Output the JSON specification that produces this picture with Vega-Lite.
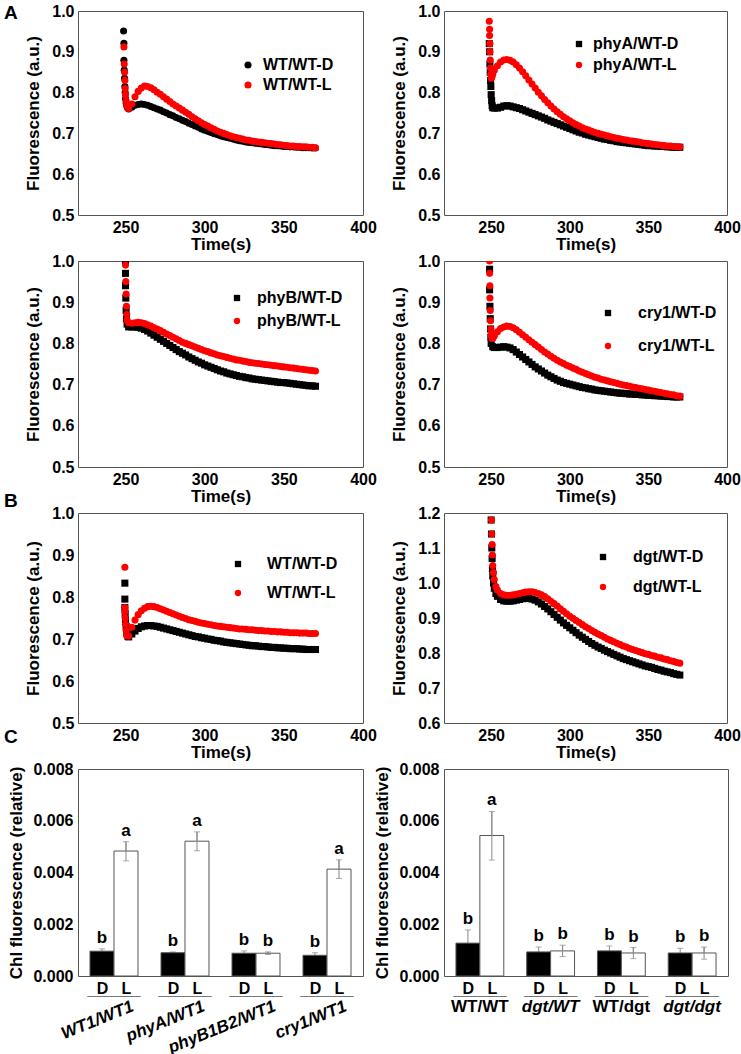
{
"$schema": "https://vega.github.io/schema/vega-lite/v6.json",
"padding": {"left": 3, "top": 2, "right": 5, "bottom": 5},
"datasets": {
"p1": [
{"t":248.8,"f":0.951,"s":"D"},{"t":249,"f":0.921,"s":"D"},{"t":249,"f":0.879,"s":"D"},{"t":249.2,"f":0.855,"s":"D"},{"t":249.4,"f":0.835,"s":"D"},{"t":249.6,"f":0.815,"s":"D"},{"t":249.8,"f":0.8,"s":"D"},{"t":250,"f":0.785,"s":"D"},{"t":250.4,"f":0.775,"s":"D"},{"t":250.8,"f":0.768,"s":"D"},{"t":251.4,"f":0.762,"s":"D"},
{"t":252,"f":0.76,"s":"D"},{"t":254,"f":0.764,"s":"D"},{"t":256,"f":0.769,"s":"D"},{"t":258,"f":0.771,"s":"D"},{"t":260,"f":0.772,"s":"D"},{"t":262,"f":0.771,"s":"D"},{"t":264,"f":0.769,"s":"D"},{"t":266,"f":0.766,"s":"D"},{"t":268,"f":0.763,"s":"D"},{"t":270,"f":0.76,"s":"D"},{"t":272,"f":0.757,"s":"D"},{"t":274,"f":0.753,"s":"D"},{"t":276,"f":0.75,"s":"D"},{"t":278,"f":0.746,"s":"D"},{"t":280,"f":0.743,"s":"D"},{"t":282,"f":0.739,"s":"D"},{"t":284,"f":0.736,"s":"D"},{"t":286,"f":0.732,"s":"D"},{"t":288,"f":0.729,"s":"D"},{"t":290,"f":0.725,"s":"D"},{"t":292,"f":0.722,"s":"D"},{"t":294,"f":0.718,"s":"D"},{"t":296,"f":0.715,"s":"D"},{"t":298,"f":0.711,"s":"D"},{"t":300,"f":0.708,"s":"D"},{"t":302,"f":0.705,"s":"D"},{"t":304,"f":0.702,"s":"D"},{"t":306,"f":0.699,"s":"D"},{"t":308,"f":0.697,"s":"D"},{"t":310,"f":0.694,"s":"D"},{"t":312,"f":0.692,"s":"D"},{"t":314,"f":0.69,"s":"D"},{"t":316,"f":0.688,"s":"D"},{"t":318,"f":0.686,"s":"D"},{"t":320,"f":0.684,"s":"D"},{"t":322,"f":0.682,"s":"D"},{"t":324,"f":0.681,"s":"D"},{"t":326,"f":0.679,"s":"D"},{"t":328,"f":0.678,"s":"D"},{"t":330,"f":0.677,"s":"D"},{"t":332,"f":0.676,"s":"D"},{"t":334,"f":0.675,"s":"D"},{"t":336,"f":0.674,"s":"D"},{"t":338,"f":0.673,"s":"D"},{"t":340,"f":0.672,"s":"D"},{"t":342,"f":0.671,"s":"D"},{"t":344,"f":0.67,"s":"D"},{"t":346,"f":0.67,"s":"D"},{"t":348,"f":0.669,"s":"D"},{"t":350,"f":0.668,"s":"D"},{"t":352,"f":0.668,"s":"D"},{"t":354,"f":0.667,"s":"D"},{"t":356,"f":0.667,"s":"D"},{"t":358,"f":0.666,"s":"D"},{"t":360,"f":0.666,"s":"D"},{"t":362,"f":0.665,"s":"D"},{"t":364,"f":0.665,"s":"D"},{"t":366,"f":0.665,"s":"D"},{"t":368,"f":0.664,"s":"D"},{"t":370,"f":0.664,"s":"D"},
{"t":249,"f":0.912,"s":"L"},{"t":249.2,"f":0.87,"s":"L"},{"t":249.4,"f":0.85,"s":"L"},{"t":249.6,"f":0.83,"s":"L"},{"t":249.8,"f":0.81,"s":"L"},{"t":250,"f":0.795,"s":"L"},{"t":250.4,"f":0.78,"s":"L"},{"t":250.8,"f":0.77,"s":"L"},{"t":251.4,"f":0.763,"s":"L"},
{"t":252,"f":0.761,"s":"L"},{"t":254,"f":0.772,"s":"L"},{"t":256,"f":0.79,"s":"L"},{"t":258,"f":0.803,"s":"L"},{"t":260,"f":0.811,"s":"L"},{"t":262,"f":0.816,"s":"L"},{"t":264,"f":0.815,"s":"L"},{"t":266,"f":0.812,"s":"L"},{"t":268,"f":0.807,"s":"L"},{"t":270,"f":0.801,"s":"L"},{"t":272,"f":0.796,"s":"L"},{"t":274,"f":0.79,"s":"L"},{"t":276,"f":0.784,"s":"L"},{"t":278,"f":0.778,"s":"L"},{"t":280,"f":0.772,"s":"L"},{"t":282,"f":0.767,"s":"L"},{"t":284,"f":0.762,"s":"L"},{"t":286,"f":0.757,"s":"L"},{"t":288,"f":0.752,"s":"L"},{"t":290,"f":0.747,"s":"L"},{"t":292,"f":0.741,"s":"L"},{"t":294,"f":0.736,"s":"L"},{"t":296,"f":0.731,"s":"L"},{"t":298,"f":0.726,"s":"L"},{"t":300,"f":0.722,"s":"L"},{"t":302,"f":0.718,"s":"L"},{"t":304,"f":0.714,"s":"L"},{"t":306,"f":0.71,"s":"L"},{"t":308,"f":0.706,"s":"L"},{"t":310,"f":0.703,"s":"L"},{"t":312,"f":0.7,"s":"L"},{"t":314,"f":0.697,"s":"L"},{"t":316,"f":0.694,"s":"L"},{"t":318,"f":0.692,"s":"L"},{"t":320,"f":0.69,"s":"L"},{"t":322,"f":0.688,"s":"L"},{"t":324,"f":0.686,"s":"L"},{"t":326,"f":0.684,"s":"L"},{"t":328,"f":0.683,"s":"L"},{"t":330,"f":0.681,"s":"L"},{"t":332,"f":0.68,"s":"L"},{"t":334,"f":0.679,"s":"L"},{"t":336,"f":0.678,"s":"L"},{"t":338,"f":0.677,"s":"L"},{"t":340,"f":0.676,"s":"L"},{"t":342,"f":0.675,"s":"L"},{"t":344,"f":0.674,"s":"L"},{"t":346,"f":0.673,"s":"L"},{"t":348,"f":0.672,"s":"L"},{"t":350,"f":0.671,"s":"L"},{"t":352,"f":0.67,"s":"L"},{"t":354,"f":0.669,"s":"L"},{"t":356,"f":0.669,"s":"L"},{"t":358,"f":0.668,"s":"L"},{"t":360,"f":0.668,"s":"L"},{"t":362,"f":0.667,"s":"L"},{"t":364,"f":0.667,"s":"L"},{"t":366,"f":0.666,"s":"L"},{"t":368,"f":0.666,"s":"L"},{"t":370,"f":0.665,"s":"L"}
],
"p2": [
{"t":248.8,"f":0.92,"s":"D"},{"t":249,"f":0.9,"s":"D"},{"t":249.2,"f":0.87,"s":"D"},{"t":249.4,"f":0.85,"s":"D"},{"t":249.6,"f":0.83,"s":"D"},{"t":249.8,"f":0.815,"s":"D"},{"t":250,"f":0.795,"s":"D"},{"t":250.3,"f":0.78,"s":"D"},{"t":250.6,"f":0.768,"s":"D"},{"t":251,"f":0.763,"s":"D"},
{"t":252,"f":0.762,"s":"D"},{"t":254,"f":0.762,"s":"D"},{"t":256,"f":0.764,"s":"D"},{"t":258,"f":0.767,"s":"D"},{"t":260,"f":0.768,"s":"D"},{"t":262,"f":0.767,"s":"D"},{"t":264,"f":0.765,"s":"D"},{"t":266,"f":0.763,"s":"D"},{"t":268,"f":0.761,"s":"D"},{"t":270,"f":0.758,"s":"D"},{"t":272,"f":0.755,"s":"D"},{"t":274,"f":0.752,"s":"D"},{"t":276,"f":0.749,"s":"D"},{"t":278,"f":0.746,"s":"D"},{"t":280,"f":0.743,"s":"D"},{"t":282,"f":0.74,"s":"D"},{"t":284,"f":0.737,"s":"D"},{"t":286,"f":0.733,"s":"D"},{"t":288,"f":0.73,"s":"D"},{"t":290,"f":0.727,"s":"D"},{"t":292,"f":0.724,"s":"D"},{"t":294,"f":0.721,"s":"D"},{"t":296,"f":0.718,"s":"D"},{"t":298,"f":0.715,"s":"D"},{"t":300,"f":0.712,"s":"D"},{"t":302,"f":0.709,"s":"D"},{"t":304,"f":0.706,"s":"D"},{"t":306,"f":0.703,"s":"D"},{"t":308,"f":0.701,"s":"D"},{"t":310,"f":0.698,"s":"D"},{"t":312,"f":0.696,"s":"D"},{"t":314,"f":0.694,"s":"D"},{"t":316,"f":0.692,"s":"D"},{"t":318,"f":0.69,"s":"D"},{"t":320,"f":0.688,"s":"D"},{"t":322,"f":0.686,"s":"D"},{"t":324,"f":0.685,"s":"D"},{"t":326,"f":0.683,"s":"D"},{"t":328,"f":0.682,"s":"D"},{"t":330,"f":0.68,"s":"D"},{"t":332,"f":0.679,"s":"D"},{"t":334,"f":0.678,"s":"D"},{"t":336,"f":0.677,"s":"D"},{"t":338,"f":0.676,"s":"D"},{"t":340,"f":0.675,"s":"D"},{"t":342,"f":0.674,"s":"D"},{"t":344,"f":0.673,"s":"D"},{"t":346,"f":0.672,"s":"D"},{"t":348,"f":0.671,"s":"D"},{"t":350,"f":0.67,"s":"D"},{"t":352,"f":0.67,"s":"D"},{"t":354,"f":0.669,"s":"D"},{"t":356,"f":0.669,"s":"D"},{"t":358,"f":0.668,"s":"D"},{"t":360,"f":0.668,"s":"D"},{"t":362,"f":0.667,"s":"D"},{"t":364,"f":0.667,"s":"D"},{"t":366,"f":0.666,"s":"D"},{"t":368,"f":0.666,"s":"D"},{"t":370,"f":0.666,"s":"D"},
{"t":248.8,"f":0.975,"s":"L"},{"t":249,"f":0.955,"s":"L"},{"t":249,"f":0.94,"s":"L"},{"t":249.2,"f":0.92,"s":"L"},{"t":249.2,"f":0.9,"s":"L"},{"t":249.4,"f":0.88,"s":"L"},{"t":249.6,"f":0.86,"s":"L"},{"t":249.8,"f":0.845,"s":"L"},{"t":250,"f":0.835,"s":"L"},{"t":250.5,"f":0.838,"s":"L"},{"t":251,"f":0.845,"s":"L"},
{"t":252,"f":0.855,"s":"L"},{"t":254,"f":0.866,"s":"L"},{"t":256,"f":0.875,"s":"L"},{"t":258,"f":0.88,"s":"L"},{"t":260,"f":0.881,"s":"L"},{"t":262,"f":0.879,"s":"L"},{"t":264,"f":0.875,"s":"L"},{"t":266,"f":0.868,"s":"L"},{"t":268,"f":0.86,"s":"L"},{"t":270,"f":0.851,"s":"L"},{"t":272,"f":0.841,"s":"L"},{"t":274,"f":0.831,"s":"L"},{"t":276,"f":0.821,"s":"L"},{"t":278,"f":0.811,"s":"L"},{"t":280,"f":0.801,"s":"L"},{"t":282,"f":0.792,"s":"L"},{"t":284,"f":0.783,"s":"L"},{"t":286,"f":0.775,"s":"L"},{"t":288,"f":0.767,"s":"L"},{"t":290,"f":0.76,"s":"L"},{"t":292,"f":0.753,"s":"L"},{"t":294,"f":0.747,"s":"L"},{"t":296,"f":0.741,"s":"L"},{"t":298,"f":0.736,"s":"L"},{"t":300,"f":0.731,"s":"L"},{"t":302,"f":0.726,"s":"L"},{"t":304,"f":0.722,"s":"L"},{"t":306,"f":0.718,"s":"L"},{"t":308,"f":0.714,"s":"L"},{"t":310,"f":0.711,"s":"L"},{"t":312,"f":0.708,"s":"L"},{"t":314,"f":0.705,"s":"L"},{"t":316,"f":0.702,"s":"L"},{"t":318,"f":0.7,"s":"L"},{"t":320,"f":0.698,"s":"L"},{"t":322,"f":0.696,"s":"L"},{"t":324,"f":0.694,"s":"L"},{"t":326,"f":0.692,"s":"L"},{"t":328,"f":0.69,"s":"L"},{"t":330,"f":0.688,"s":"L"},{"t":332,"f":0.687,"s":"L"},{"t":334,"f":0.685,"s":"L"},{"t":336,"f":0.684,"s":"L"},{"t":338,"f":0.682,"s":"L"},{"t":340,"f":0.681,"s":"L"},{"t":342,"f":0.68,"s":"L"},{"t":344,"f":0.679,"s":"L"},{"t":346,"f":0.677,"s":"L"},{"t":348,"f":0.676,"s":"L"},{"t":350,"f":0.675,"s":"L"},{"t":352,"f":0.674,"s":"L"},{"t":354,"f":0.673,"s":"L"},{"t":356,"f":0.672,"s":"L"},{"t":358,"f":0.671,"s":"L"},{"t":360,"f":0.67,"s":"L"},{"t":362,"f":0.669,"s":"L"},{"t":364,"f":0.669,"s":"L"},{"t":366,"f":0.668,"s":"L"},{"t":368,"f":0.667,"s":"L"},{"t":370,"f":0.667,"s":"L"}
],
"p3": [
{"t":250,"f":1.0,"s":"D"},{"t":250,"f":0.97,"s":"D"},{"t":250,"f":0.94,"s":"D"},{"t":250.2,"f":0.91,"s":"D"},{"t":250.4,"f":0.88,"s":"D"},{"t":250.6,"f":0.86,"s":"D"},{"t":251,"f":0.847,"s":"D"},
{"t":252,"f":0.84,"s":"D"},{"t":254,"f":0.84,"s":"D"},{"t":256,"f":0.84,"s":"D"},{"t":258,"f":0.839,"s":"D"},{"t":260,"f":0.837,"s":"D"},{"t":262,"f":0.834,"s":"D"},{"t":264,"f":0.83,"s":"D"},{"t":266,"f":0.825,"s":"D"},{"t":268,"f":0.82,"s":"D"},{"t":270,"f":0.815,"s":"D"},{"t":272,"f":0.81,"s":"D"},{"t":274,"f":0.805,"s":"D"},{"t":276,"f":0.8,"s":"D"},{"t":278,"f":0.795,"s":"D"},{"t":280,"f":0.79,"s":"D"},{"t":282,"f":0.785,"s":"D"},{"t":284,"f":0.78,"s":"D"},{"t":286,"f":0.776,"s":"D"},{"t":288,"f":0.772,"s":"D"},{"t":290,"f":0.767,"s":"D"},{"t":292,"f":0.763,"s":"D"},{"t":294,"f":0.759,"s":"D"},{"t":296,"f":0.755,"s":"D"},{"t":298,"f":0.752,"s":"D"},{"t":300,"f":0.748,"s":"D"},{"t":302,"f":0.745,"s":"D"},{"t":304,"f":0.742,"s":"D"},{"t":306,"f":0.739,"s":"D"},{"t":308,"f":0.736,"s":"D"},{"t":310,"f":0.733,"s":"D"},{"t":312,"f":0.731,"s":"D"},{"t":314,"f":0.728,"s":"D"},{"t":316,"f":0.726,"s":"D"},{"t":318,"f":0.724,"s":"D"},{"t":320,"f":0.722,"s":"D"},{"t":322,"f":0.72,"s":"D"},{"t":324,"f":0.719,"s":"D"},{"t":326,"f":0.717,"s":"D"},{"t":328,"f":0.716,"s":"D"},{"t":330,"f":0.714,"s":"D"},{"t":332,"f":0.713,"s":"D"},{"t":334,"f":0.712,"s":"D"},{"t":336,"f":0.711,"s":"D"},{"t":338,"f":0.71,"s":"D"},{"t":340,"f":0.709,"s":"D"},{"t":342,"f":0.708,"s":"D"},{"t":344,"f":0.707,"s":"D"},{"t":346,"f":0.706,"s":"D"},{"t":348,"f":0.705,"s":"D"},{"t":350,"f":0.705,"s":"D"},{"t":352,"f":0.704,"s":"D"},{"t":354,"f":0.703,"s":"D"},{"t":356,"f":0.702,"s":"D"},{"t":358,"f":0.701,"s":"D"},{"t":360,"f":0.7,"s":"D"},{"t":362,"f":0.699,"s":"D"},{"t":364,"f":0.698,"s":"D"},{"t":366,"f":0.697,"s":"D"},{"t":368,"f":0.697,"s":"D"},{"t":370,"f":0.696,"s":"D"},
{"t":250,"f":0.99,"s":"L"},{"t":250.2,"f":0.95,"s":"L"},{"t":250.4,"f":0.92,"s":"L"},{"t":250.6,"f":0.89,"s":"L"},{"t":250.8,"f":0.87,"s":"L"},{"t":251,"f":0.857,"s":"L"},
{"t":252,"f":0.85,"s":"L"},{"t":254,"f":0.849,"s":"L"},{"t":256,"f":0.85,"s":"L"},{"t":258,"f":0.851,"s":"L"},{"t":260,"f":0.85,"s":"L"},{"t":262,"f":0.848,"s":"L"},{"t":264,"f":0.845,"s":"L"},{"t":266,"f":0.842,"s":"L"},{"t":268,"f":0.838,"s":"L"},{"t":270,"f":0.835,"s":"L"},{"t":272,"f":0.831,"s":"L"},{"t":274,"f":0.827,"s":"L"},{"t":276,"f":0.823,"s":"L"},{"t":278,"f":0.819,"s":"L"},{"t":280,"f":0.815,"s":"L"},{"t":282,"f":0.811,"s":"L"},{"t":284,"f":0.807,"s":"L"},{"t":286,"f":0.803,"s":"L"},{"t":288,"f":0.8,"s":"L"},{"t":290,"f":0.797,"s":"L"},{"t":292,"f":0.794,"s":"L"},{"t":294,"f":0.791,"s":"L"},{"t":296,"f":0.788,"s":"L"},{"t":298,"f":0.785,"s":"L"},{"t":300,"f":0.782,"s":"L"},{"t":302,"f":0.78,"s":"L"},{"t":304,"f":0.777,"s":"L"},{"t":306,"f":0.775,"s":"L"},{"t":308,"f":0.772,"s":"L"},{"t":310,"f":0.77,"s":"L"},{"t":312,"f":0.768,"s":"L"},{"t":314,"f":0.766,"s":"L"},{"t":316,"f":0.764,"s":"L"},{"t":318,"f":0.762,"s":"L"},{"t":320,"f":0.76,"s":"L"},{"t":322,"f":0.759,"s":"L"},{"t":324,"f":0.757,"s":"L"},{"t":326,"f":0.756,"s":"L"},{"t":328,"f":0.754,"s":"L"},{"t":330,"f":0.753,"s":"L"},{"t":332,"f":0.752,"s":"L"},{"t":334,"f":0.751,"s":"L"},{"t":336,"f":0.75,"s":"L"},{"t":338,"f":0.749,"s":"L"},{"t":340,"f":0.748,"s":"L"},{"t":342,"f":0.747,"s":"L"},{"t":344,"f":0.746,"s":"L"},{"t":346,"f":0.745,"s":"L"},{"t":348,"f":0.744,"s":"L"},{"t":350,"f":0.743,"s":"L"},{"t":352,"f":0.742,"s":"L"},{"t":354,"f":0.741,"s":"L"},{"t":356,"f":0.74,"s":"L"},{"t":358,"f":0.739,"s":"L"},{"t":360,"f":0.738,"s":"L"},{"t":362,"f":0.737,"s":"L"},{"t":364,"f":0.736,"s":"L"},{"t":366,"f":0.735,"s":"L"},{"t":368,"f":0.734,"s":"L"},{"t":370,"f":0.733,"s":"L"}
],
"p4": [
{"t":249,"f":0.98,"s":"D"},{"t":249,"f":0.93,"s":"D"},{"t":249.2,"f":0.89,"s":"D"},{"t":249.4,"f":0.86,"s":"D"},{"t":249.6,"f":0.835,"s":"D"},{"t":249.8,"f":0.815,"s":"D"},{"t":250,"f":0.8,"s":"D"},{"t":251,"f":0.792,"s":"D"},
{"t":252,"f":0.79,"s":"D"},{"t":254,"f":0.79,"s":"D"},{"t":256,"f":0.791,"s":"D"},{"t":258,"f":0.792,"s":"D"},{"t":260,"f":0.791,"s":"D"},{"t":262,"f":0.789,"s":"D"},{"t":264,"f":0.785,"s":"D"},{"t":266,"f":0.779,"s":"D"},{"t":268,"f":0.773,"s":"D"},{"t":270,"f":0.767,"s":"D"},{"t":272,"f":0.761,"s":"D"},{"t":274,"f":0.755,"s":"D"},{"t":276,"f":0.749,"s":"D"},{"t":278,"f":0.743,"s":"D"},{"t":280,"f":0.738,"s":"D"},{"t":282,"f":0.733,"s":"D"},{"t":284,"f":0.728,"s":"D"},{"t":286,"f":0.723,"s":"D"},{"t":288,"f":0.719,"s":"D"},{"t":290,"f":0.715,"s":"D"},{"t":292,"f":0.711,"s":"D"},{"t":294,"f":0.708,"s":"D"},{"t":296,"f":0.705,"s":"D"},{"t":298,"f":0.703,"s":"D"},{"t":300,"f":0.701,"s":"D"},{"t":302,"f":0.699,"s":"D"},{"t":304,"f":0.697,"s":"D"},{"t":306,"f":0.695,"s":"D"},{"t":308,"f":0.693,"s":"D"},{"t":310,"f":0.692,"s":"D"},{"t":312,"f":0.69,"s":"D"},{"t":314,"f":0.689,"s":"D"},{"t":316,"f":0.687,"s":"D"},{"t":318,"f":0.686,"s":"D"},{"t":320,"f":0.685,"s":"D"},{"t":322,"f":0.684,"s":"D"},{"t":324,"f":0.683,"s":"D"},{"t":326,"f":0.682,"s":"D"},{"t":328,"f":0.681,"s":"D"},{"t":330,"f":0.68,"s":"D"},{"t":332,"f":0.679,"s":"D"},{"t":334,"f":0.679,"s":"D"},{"t":336,"f":0.678,"s":"D"},{"t":338,"f":0.677,"s":"D"},{"t":340,"f":0.677,"s":"D"},{"t":342,"f":0.676,"s":"D"},{"t":344,"f":0.676,"s":"D"},{"t":346,"f":0.675,"s":"D"},{"t":348,"f":0.675,"s":"D"},{"t":350,"f":0.674,"s":"D"},{"t":352,"f":0.674,"s":"D"},{"t":354,"f":0.673,"s":"D"},{"t":356,"f":0.673,"s":"D"},{"t":358,"f":0.672,"s":"D"},{"t":360,"f":0.672,"s":"D"},{"t":362,"f":0.671,"s":"D"},{"t":364,"f":0.671,"s":"D"},{"t":366,"f":0.67,"s":"D"},{"t":368,"f":0.67,"s":"D"},{"t":370,"f":0.67,"s":"D"},
{"t":249,"f":1.0,"s":"L"},{"t":249,"f":0.97,"s":"L"},{"t":249.2,"f":0.94,"s":"L"},{"t":249.2,"f":0.91,"s":"L"},{"t":249.4,"f":0.88,"s":"L"},{"t":249.6,"f":0.855,"s":"L"},{"t":249.8,"f":0.835,"s":"L"},{"t":250,"f":0.82,"s":"L"},{"t":250.5,"f":0.812,"s":"L"},{"t":251,"f":0.812,"s":"L"},
{"t":252,"f":0.818,"s":"L"},{"t":254,"f":0.828,"s":"L"},{"t":256,"f":0.836,"s":"L"},{"t":258,"f":0.84,"s":"L"},{"t":260,"f":0.842,"s":"L"},{"t":262,"f":0.841,"s":"L"},{"t":264,"f":0.838,"s":"L"},{"t":266,"f":0.833,"s":"L"},{"t":268,"f":0.827,"s":"L"},{"t":270,"f":0.821,"s":"L"},{"t":272,"f":0.815,"s":"L"},{"t":274,"f":0.809,"s":"L"},{"t":276,"f":0.803,"s":"L"},{"t":278,"f":0.797,"s":"L"},{"t":280,"f":0.791,"s":"L"},{"t":282,"f":0.785,"s":"L"},{"t":284,"f":0.779,"s":"L"},{"t":286,"f":0.774,"s":"L"},{"t":288,"f":0.769,"s":"L"},{"t":290,"f":0.764,"s":"L"},{"t":292,"f":0.759,"s":"L"},{"t":294,"f":0.755,"s":"L"},{"t":296,"f":0.751,"s":"L"},{"t":298,"f":0.747,"s":"L"},{"t":300,"f":0.744,"s":"L"},{"t":302,"f":0.74,"s":"L"},{"t":304,"f":0.737,"s":"L"},{"t":306,"f":0.733,"s":"L"},{"t":308,"f":0.73,"s":"L"},{"t":310,"f":0.727,"s":"L"},{"t":312,"f":0.724,"s":"L"},{"t":314,"f":0.721,"s":"L"},{"t":316,"f":0.718,"s":"L"},{"t":318,"f":0.716,"s":"L"},{"t":320,"f":0.713,"s":"L"},{"t":322,"f":0.711,"s":"L"},{"t":324,"f":0.709,"s":"L"},{"t":326,"f":0.707,"s":"L"},{"t":328,"f":0.705,"s":"L"},{"t":330,"f":0.703,"s":"L"},{"t":332,"f":0.701,"s":"L"},{"t":334,"f":0.699,"s":"L"},{"t":336,"f":0.698,"s":"L"},{"t":338,"f":0.696,"s":"L"},{"t":340,"f":0.694,"s":"L"},{"t":342,"f":0.693,"s":"L"},{"t":344,"f":0.691,"s":"L"},{"t":346,"f":0.69,"s":"L"},{"t":348,"f":0.688,"s":"L"},{"t":350,"f":0.687,"s":"L"},{"t":352,"f":0.685,"s":"L"},{"t":354,"f":0.684,"s":"L"},{"t":356,"f":0.682,"s":"L"},{"t":358,"f":0.681,"s":"L"},{"t":360,"f":0.679,"s":"L"},{"t":362,"f":0.678,"s":"L"},{"t":364,"f":0.676,"s":"L"},{"t":366,"f":0.675,"s":"L"},{"t":368,"f":0.673,"s":"L"},{"t":370,"f":0.672,"s":"L"}
],
"p5": [
{"t":249.6,"f":0.833,"s":"D"},{"t":249.6,"f":0.795,"s":"D"},{"t":249.6,"f":0.775,"s":"D"},{"t":249.8,"f":0.76,"s":"D"},{"t":250,"f":0.745,"s":"D"},{"t":250.4,"f":0.73,"s":"D"},{"t":250.8,"f":0.715,"s":"D"},{"t":251.4,"f":0.707,"s":"D"},
{"t":252,"f":0.705,"s":"D"},{"t":254,"f":0.712,"s":"D"},{"t":256,"f":0.719,"s":"D"},{"t":258,"f":0.725,"s":"D"},{"t":260,"f":0.729,"s":"D"},{"t":262,"f":0.731,"s":"D"},{"t":264,"f":0.732,"s":"D"},{"t":266,"f":0.732,"s":"D"},{"t":268,"f":0.731,"s":"D"},{"t":270,"f":0.73,"s":"D"},{"t":272,"f":0.728,"s":"D"},{"t":274,"f":0.726,"s":"D"},{"t":276,"f":0.724,"s":"D"},{"t":278,"f":0.722,"s":"D"},{"t":280,"f":0.72,"s":"D"},{"t":282,"f":0.718,"s":"D"},{"t":284,"f":0.716,"s":"D"},{"t":286,"f":0.714,"s":"D"},{"t":288,"f":0.712,"s":"D"},{"t":290,"f":0.71,"s":"D"},{"t":292,"f":0.708,"s":"D"},{"t":294,"f":0.706,"s":"D"},{"t":296,"f":0.705,"s":"D"},{"t":298,"f":0.703,"s":"D"},{"t":300,"f":0.702,"s":"D"},{"t":302,"f":0.7,"s":"D"},{"t":304,"f":0.699,"s":"D"},{"t":306,"f":0.697,"s":"D"},{"t":308,"f":0.696,"s":"D"},{"t":310,"f":0.695,"s":"D"},{"t":312,"f":0.693,"s":"D"},{"t":314,"f":0.692,"s":"D"},{"t":316,"f":0.691,"s":"D"},{"t":318,"f":0.69,"s":"D"},{"t":320,"f":0.689,"s":"D"},{"t":322,"f":0.688,"s":"D"},{"t":324,"f":0.687,"s":"D"},{"t":326,"f":0.686,"s":"D"},{"t":328,"f":0.685,"s":"D"},{"t":330,"f":0.684,"s":"D"},{"t":332,"f":0.684,"s":"D"},{"t":334,"f":0.683,"s":"D"},{"t":336,"f":0.682,"s":"D"},{"t":338,"f":0.682,"s":"D"},{"t":340,"f":0.681,"s":"D"},{"t":342,"f":0.68,"s":"D"},{"t":344,"f":0.68,"s":"D"},{"t":346,"f":0.679,"s":"D"},{"t":348,"f":0.679,"s":"D"},{"t":350,"f":0.678,"s":"D"},{"t":352,"f":0.678,"s":"D"},{"t":354,"f":0.677,"s":"D"},{"t":356,"f":0.677,"s":"D"},{"t":358,"f":0.677,"s":"D"},{"t":360,"f":0.676,"s":"D"},{"t":362,"f":0.676,"s":"D"},{"t":364,"f":0.675,"s":"D"},{"t":366,"f":0.675,"s":"D"},{"t":368,"f":0.675,"s":"D"},{"t":370,"f":0.675,"s":"D"},
{"t":249.6,"f":0.871,"s":"L"},{"t":249.6,"f":0.775,"s":"L"},{"t":249.6,"f":0.765,"s":"L"},{"t":249.8,"f":0.75,"s":"L"},{"t":250,"f":0.735,"s":"L"},{"t":250.4,"f":0.72,"s":"L"},{"t":250.8,"f":0.708,"s":"L"},
{"t":252,"f":0.707,"s":"L"},{"t":254,"f":0.728,"s":"L"},{"t":256,"f":0.745,"s":"L"},{"t":258,"f":0.758,"s":"L"},{"t":260,"f":0.767,"s":"L"},{"t":262,"f":0.773,"s":"L"},{"t":264,"f":0.777,"s":"L"},{"t":266,"f":0.778,"s":"L"},{"t":268,"f":0.777,"s":"L"},{"t":270,"f":0.775,"s":"L"},{"t":272,"f":0.772,"s":"L"},{"t":274,"f":0.769,"s":"L"},{"t":276,"f":0.766,"s":"L"},{"t":278,"f":0.763,"s":"L"},{"t":280,"f":0.76,"s":"L"},{"t":282,"f":0.757,"s":"L"},{"t":284,"f":0.754,"s":"L"},{"t":286,"f":0.751,"s":"L"},{"t":288,"f":0.749,"s":"L"},{"t":290,"f":0.746,"s":"L"},{"t":292,"f":0.744,"s":"L"},{"t":294,"f":0.742,"s":"L"},{"t":296,"f":0.74,"s":"L"},{"t":298,"f":0.738,"s":"L"},{"t":300,"f":0.737,"s":"L"},{"t":302,"f":0.735,"s":"L"},{"t":304,"f":0.734,"s":"L"},{"t":306,"f":0.732,"s":"L"},{"t":308,"f":0.731,"s":"L"},{"t":310,"f":0.73,"s":"L"},{"t":312,"f":0.729,"s":"L"},{"t":314,"f":0.728,"s":"L"},{"t":316,"f":0.727,"s":"L"},{"t":318,"f":0.726,"s":"L"},{"t":320,"f":0.725,"s":"L"},{"t":322,"f":0.724,"s":"L"},{"t":324,"f":0.724,"s":"L"},{"t":326,"f":0.723,"s":"L"},{"t":328,"f":0.722,"s":"L"},{"t":330,"f":0.722,"s":"L"},{"t":332,"f":0.721,"s":"L"},{"t":334,"f":0.72,"s":"L"},{"t":336,"f":0.72,"s":"L"},{"t":338,"f":0.719,"s":"L"},{"t":340,"f":0.719,"s":"L"},{"t":342,"f":0.718,"s":"L"},{"t":344,"f":0.718,"s":"L"},{"t":346,"f":0.717,"s":"L"},{"t":348,"f":0.717,"s":"L"},{"t":350,"f":0.716,"s":"L"},{"t":352,"f":0.716,"s":"L"},{"t":354,"f":0.715,"s":"L"},{"t":356,"f":0.715,"s":"L"},{"t":358,"f":0.715,"s":"L"},{"t":360,"f":0.714,"s":"L"},{"t":362,"f":0.714,"s":"L"},{"t":364,"f":0.714,"s":"L"},{"t":366,"f":0.713,"s":"L"},{"t":368,"f":0.713,"s":"L"},{"t":370,"f":0.713,"s":"L"}
],
"p6": [
{"t":250,"f":1.22,"s":"D"},{"t":250,"f":1.18,"s":"D"},{"t":250.2,"f":1.14,"s":"D"},{"t":250.4,"f":1.1,"s":"D"},{"t":250.6,"f":1.07,"s":"D"},{"t":250.8,"f":1.04,"s":"D"},{"t":251,"f":1.02,"s":"D"},{"t":251.5,"f":1.0,"s":"D"},{"t":252,"f":0.985,"s":"D"},{"t":253,"f":0.97,"s":"D"},
{"t":254,"f":0.962,"s":"D"},{"t":256,"f":0.953,"s":"D"},{"t":258,"f":0.949,"s":"D"},{"t":260,"f":0.948,"s":"D"},{"t":262,"f":0.948,"s":"D"},{"t":264,"f":0.949,"s":"D"},{"t":266,"f":0.951,"s":"D"},{"t":268,"f":0.953,"s":"D"},{"t":270,"f":0.955,"s":"D"},{"t":272,"f":0.956,"s":"D"},{"t":274,"f":0.956,"s":"D"},{"t":276,"f":0.954,"s":"D"},{"t":278,"f":0.951,"s":"D"},{"t":280,"f":0.946,"s":"D"},{"t":282,"f":0.94,"s":"D"},{"t":284,"f":0.933,"s":"D"},{"t":286,"f":0.926,"s":"D"},{"t":288,"f":0.918,"s":"D"},{"t":290,"f":0.91,"s":"D"},{"t":292,"f":0.902,"s":"D"},{"t":294,"f":0.894,"s":"D"},{"t":296,"f":0.886,"s":"D"},{"t":298,"f":0.879,"s":"D"},{"t":300,"f":0.872,"s":"D"},{"t":302,"f":0.865,"s":"D"},{"t":304,"f":0.858,"s":"D"},{"t":306,"f":0.851,"s":"D"},{"t":308,"f":0.845,"s":"D"},{"t":310,"f":0.839,"s":"D"},{"t":312,"f":0.833,"s":"D"},{"t":314,"f":0.827,"s":"D"},{"t":316,"f":0.822,"s":"D"},{"t":318,"f":0.817,"s":"D"},{"t":320,"f":0.813,"s":"D"},{"t":322,"f":0.808,"s":"D"},{"t":324,"f":0.804,"s":"D"},{"t":326,"f":0.8,"s":"D"},{"t":328,"f":0.796,"s":"D"},{"t":330,"f":0.792,"s":"D"},{"t":332,"f":0.788,"s":"D"},{"t":334,"f":0.784,"s":"D"},{"t":336,"f":0.781,"s":"D"},{"t":338,"f":0.778,"s":"D"},{"t":340,"f":0.775,"s":"D"},{"t":342,"f":0.772,"s":"D"},{"t":344,"f":0.769,"s":"D"},{"t":346,"f":0.766,"s":"D"},{"t":348,"f":0.763,"s":"D"},{"t":350,"f":0.761,"s":"D"},{"t":352,"f":0.759,"s":"D"},{"t":354,"f":0.756,"s":"D"},{"t":356,"f":0.753,"s":"D"},{"t":358,"f":0.751,"s":"D"},{"t":360,"f":0.748,"s":"D"},{"t":362,"f":0.746,"s":"D"},{"t":364,"f":0.744,"s":"D"},{"t":366,"f":0.741,"s":"D"},{"t":368,"f":0.739,"s":"D"},{"t":370,"f":0.737,"s":"D"},
{"t":250,"f":1.22,"s":"L"},{"t":250.2,"f":1.18,"s":"L"},{"t":250.4,"f":1.14,"s":"L"},{"t":250.6,"f":1.11,"s":"L"},{"t":250.8,"f":1.08,"s":"L"},{"t":251,"f":1.05,"s":"L"},{"t":251.5,"f":1.03,"s":"L"},{"t":252,"f":1.01,"s":"L"},{"t":253,"f":0.99,"s":"L"},
{"t":254,"f":0.98,"s":"L"},{"t":256,"f":0.97,"s":"L"},{"t":258,"f":0.966,"s":"L"},{"t":260,"f":0.965,"s":"L"},{"t":262,"f":0.965,"s":"L"},{"t":264,"f":0.966,"s":"L"},{"t":266,"f":0.968,"s":"L"},{"t":268,"f":0.97,"s":"L"},{"t":270,"f":0.972,"s":"L"},{"t":272,"f":0.974,"s":"L"},{"t":274,"f":0.975,"s":"L"},{"t":276,"f":0.975,"s":"L"},{"t":278,"f":0.973,"s":"L"},{"t":280,"f":0.97,"s":"L"},{"t":282,"f":0.966,"s":"L"},{"t":284,"f":0.961,"s":"L"},{"t":286,"f":0.955,"s":"L"},{"t":288,"f":0.948,"s":"L"},{"t":290,"f":0.941,"s":"L"},{"t":292,"f":0.934,"s":"L"},{"t":294,"f":0.926,"s":"L"},{"t":296,"f":0.919,"s":"L"},{"t":298,"f":0.912,"s":"L"},{"t":300,"f":0.905,"s":"L"},{"t":302,"f":0.899,"s":"L"},{"t":304,"f":0.893,"s":"L"},{"t":306,"f":0.887,"s":"L"},{"t":308,"f":0.881,"s":"L"},{"t":310,"f":0.875,"s":"L"},{"t":312,"f":0.87,"s":"L"},{"t":314,"f":0.864,"s":"L"},{"t":316,"f":0.859,"s":"L"},{"t":318,"f":0.854,"s":"L"},{"t":320,"f":0.85,"s":"L"},{"t":322,"f":0.845,"s":"L"},{"t":324,"f":0.84,"s":"L"},{"t":326,"f":0.836,"s":"L"},{"t":328,"f":0.832,"s":"L"},{"t":330,"f":0.828,"s":"L"},{"t":332,"f":0.824,"s":"L"},{"t":334,"f":0.82,"s":"L"},{"t":336,"f":0.817,"s":"L"},{"t":338,"f":0.813,"s":"L"},{"t":340,"f":0.81,"s":"L"},{"t":342,"f":0.807,"s":"L"},{"t":344,"f":0.804,"s":"L"},{"t":346,"f":0.801,"s":"L"},{"t":348,"f":0.798,"s":"L"},{"t":350,"f":0.796,"s":"L"},{"t":352,"f":0.793,"s":"L"},{"t":354,"f":0.791,"s":"L"},{"t":356,"f":0.788,"s":"L"},{"t":358,"f":0.786,"s":"L"},{"t":360,"f":0.783,"s":"L"},{"t":362,"f":0.781,"s":"L"},{"t":364,"f":0.778,"s":"L"},{"t":366,"f":0.776,"s":"L"},{"t":368,"f":0.773,"s":"L"},{"t":370,"f":0.771,"s":"L"}
],
"bl": [
{"g":"WT1/WT1","c":"D","v":0.00096,"lo":0.00087,"hi":0.00105,"sig":"b"},
{"g":"WT1/WT1","c":"L","v":0.00483,"lo":0.00445,"hi":0.00519,"sig":"a"},
{"g":"phyA/WT1","c":"D","v":0.0009,"lo":0.00087,"hi":0.00093,"sig":"b"},
{"g":"phyA/WT1","c":"L","v":0.00521,"lo":0.00484,"hi":0.00557,"sig":"a"},
{"g":"phyB1B2/WT1","c":"D","v":0.00088,"lo":0.00079,"hi":0.00097,"sig":"b"},
{"g":"phyB1B2/WT1","c":"L","v":0.00088,"lo":0.00083,"hi":0.00093,"sig":"b"},
{"g":"cry1/WT1","c":"D","v":0.0008,"lo":0.00071,"hi":0.0009,"sig":"b"},
{"g":"cry1/WT1","c":"L","v":0.00413,"lo":0.00377,"hi":0.00449,"sig":"a"}
],
"br": [
{"g":"WT/WT","c":"D","v":0.00127,"lo":0.00077,"hi":0.00178,"sig":"b"},
{"g":"WT/WT","c":"L","v":0.00543,"lo":0.00448,"hi":0.00636,"sig":"a"},
{"g":"dgt/WT","c":"D","v":0.00093,"lo":0.00074,"hi":0.00112,"sig":"b"},
{"g":"dgt/WT","c":"L","v":0.00097,"lo":0.00075,"hi":0.00119,"sig":"b"},
{"g":"WT/dgt","c":"D","v":0.00097,"lo":0.00077,"hi":0.00116,"sig":"b"},
{"g":"WT/dgt","c":"L","v":0.00089,"lo":0.00067,"hi":0.0011,"sig":"b"},
{"g":"dgt/dgt","c":"D","v":0.00089,"lo":0.00068,"hi":0.00107,"sig":"b"},
{"g":"dgt/dgt","c":"L","v":0.00089,"lo":0.00065,"hi":0.00112,"sig":"b"}
]
},
"columns": 2,
"spacing": {"row": 46, "column": 81},
"bounds": "flush",
"concat": [
{"width": 285, "height": 204,
 "title": {"text": "A", "dx": -74, "dy": 24},
 "data": {"name": "p1"},
 "mark": {"type": "point", "filled": true, "size": 50, "opacity": 1, "clip": true},
 "encoding": {
  "x": {"field": "t", "type": "quantitative", "scale": {"domain": [220, 400], "nice": false, "zero": false}, "axis": {"values": [250, 300, 350, 400], "title": "Time(s)", "titlePadding": 1}},
  "y": {"field": "f", "type": "quantitative", "scale": {"domain": [0.5, 1.0], "nice": false, "zero": false}, "axis": {"values": [0.5, 0.6, 0.7, 0.8, 0.9, 1.0], "format": ".1f", "title": "Fluorescence (a.u.)", "titlePadding": 9}},
  "color": {"field": "s", "type": "nominal", "scale": {"domain": ["D", "L"], "range": ["#000000", "#ff0000"]}, "legend": {"title": null, "labelExpr": "'WT/WT-' + datum.label", "legendX": 162, "legendY": 46, "rowPadding": 4, "labelOffset": 7, "symbolSize": 50}},
  "shape": {"field": "s", "type": "nominal", "scale": {"domain": ["D", "L"], "range": ["circle", "circle"]}, "legend": {"title": null, "labelExpr": "'WT/WT-' + datum.label", "legendX": 162, "legendY": 46, "rowPadding": 4, "labelOffset": 7, "symbolSize": 50}}
 }},
{"width": 283, "height": 204,
 "data": {"name": "p2"},
 "mark": {"type": "point", "filled": true, "size": 50, "opacity": 1, "clip": true},
 "encoding": {
  "x": {"field": "t", "type": "quantitative", "scale": {"domain": [220, 400], "nice": false, "zero": false}, "axis": {"values": [250, 300, 350, 400], "title": "Time(s)", "titlePadding": 1}},
  "y": {"field": "f", "type": "quantitative", "scale": {"domain": [0.5, 1.0], "nice": false, "zero": false}, "axis": {"values": [0.5, 0.6, 0.7, 0.8, 0.9, 1.0], "format": ".1f", "title": "Fluorescence (a.u.)", "titlePadding": 9}},
  "color": {"field": "s", "type": "nominal", "scale": {"domain": ["D", "L"], "range": ["#000000", "#ff0000"]}, "legend": {"title": null, "labelExpr": "'phyA/WT-' + datum.label", "legendX": 127, "legendY": 25, "rowPadding": 5, "labelOffset": 6, "symbolSize": 40}},
  "shape": {"field": "s", "type": "nominal", "scale": {"domain": ["D", "L"], "range": ["square", "circle"]}, "legend": {"title": null, "labelExpr": "'phyA/WT-' + datum.label", "legendX": 127, "legendY": 25, "rowPadding": 5, "labelOffset": 6, "symbolSize": 40}}
 }},
{"width": 285, "height": 206,
 "data": {"name": "p3"},
 "mark": {"type": "point", "filled": true, "size": 50, "opacity": 1, "clip": true},
 "encoding": {
  "x": {"field": "t", "type": "quantitative", "scale": {"domain": [220, 400], "nice": false, "zero": false}, "axis": {"values": [250, 300, 350, 400], "title": "Time(s)", "titlePadding": 1}},
  "y": {"field": "f", "type": "quantitative", "scale": {"domain": [0.5, 1.0], "nice": false, "zero": false}, "axis": {"values": [0.5, 0.6, 0.7, 0.8, 0.9, 1.0], "format": ".1f", "title": "Fluorescence (a.u.)", "titlePadding": 9}},
  "color": {"field": "s", "type": "nominal", "scale": {"domain": ["D", "L"], "range": ["#000000", "#ff0000"]}, "legend": {"title": null, "labelExpr": "'phyB/WT-' + datum.label", "legendX": 151, "legendY": 29, "rowPadding": 7, "labelOffset": 12, "symbolSize": 40}},
  "shape": {"field": "s", "type": "nominal", "scale": {"domain": ["D", "L"], "range": ["square", "circle"]}, "legend": {"title": null, "labelExpr": "'phyB/WT-' + datum.label", "legendX": 151, "legendY": 29, "rowPadding": 7, "labelOffset": 12, "symbolSize": 40}}
 }},
{"width": 283, "height": 206,
 "data": {"name": "p4"},
 "mark": {"type": "point", "filled": true, "size": 50, "opacity": 1, "clip": true},
 "encoding": {
  "x": {"field": "t", "type": "quantitative", "scale": {"domain": [220, 400], "nice": false, "zero": false}, "axis": {"values": [250, 300, 350, 400], "title": "Time(s)", "titlePadding": 1}},
  "y": {"field": "f", "type": "quantitative", "scale": {"domain": [0.5, 1.0], "nice": false, "zero": false}, "axis": {"values": [0.5, 0.6, 0.7, 0.8, 0.9, 1.0], "format": ".1f", "title": "Fluorescence (a.u.)", "titlePadding": 9}},
  "color": {"field": "s", "type": "nominal", "scale": {"domain": ["D", "L"], "range": ["#000000", "#ff0000"]}, "legend": {"title": null, "labelExpr": "'cry1/WT-' + datum.label", "legendX": 156, "legendY": 44, "rowPadding": 17, "labelOffset": 22, "symbolSize": 40}},
  "shape": {"field": "s", "type": "nominal", "scale": {"domain": ["D", "L"], "range": ["square", "circle"]}, "legend": {"title": null, "labelExpr": "'cry1/WT-' + datum.label", "legendX": 156, "legendY": 44, "rowPadding": 17, "labelOffset": 22, "symbolSize": 40}}
 }},
{"width": 285, "height": 210,
 "title": {"text": "B", "dx": -74, "dy": 10},
 "data": {"name": "p5"},
 "mark": {"type": "point", "filled": true, "size": 50, "opacity": 1, "clip": true},
 "encoding": {
  "x": {"field": "t", "type": "quantitative", "scale": {"domain": [220, 400], "nice": false, "zero": false}, "axis": {"values": [250, 300, 350, 400], "title": "Time(s)", "titlePadding": 1}},
  "y": {"field": "f", "type": "quantitative", "scale": {"domain": [0.5, 1.0], "nice": false, "zero": false}, "axis": {"values": [0.5, 0.6, 0.7, 0.8, 0.9, 1.0], "format": ".1f", "title": "Fluorescence (a.u.)", "titlePadding": 9}},
  "color": {"field": "s", "type": "nominal", "scale": {"domain": ["D", "L"], "range": ["#000000", "#ff0000"]}, "legend": {"title": null, "labelExpr": "'WT/WT-' + datum.label", "legendX": 152, "legendY": 43, "rowPadding": 13, "labelOffset": 21, "symbolSize": 40}},
  "shape": {"field": "s", "type": "nominal", "scale": {"domain": ["D", "L"], "range": ["square", "circle"]}, "legend": {"title": null, "labelExpr": "'WT/WT-' + datum.label", "legendX": 152, "legendY": 43, "rowPadding": 13, "labelOffset": 21, "symbolSize": 40}}
 }},
{"width": 283, "height": 210,
 "data": {"name": "p6"},
 "mark": {"type": "point", "filled": true, "size": 50, "opacity": 1, "clip": true},
 "encoding": {
  "x": {"field": "t", "type": "quantitative", "scale": {"domain": [220, 400], "nice": false, "zero": false}, "axis": {"values": [250, 300, 350, 400], "title": "Time(s)", "titlePadding": 1}},
  "y": {"field": "f", "type": "quantitative", "scale": {"domain": [0.6, 1.2], "nice": false, "zero": false}, "axis": {"values": [0.6, 0.7, 0.8, 0.9, 1.0, 1.1, 1.2], "format": ".1f", "title": "Fluorescence (a.u.)", "titlePadding": 9}},
  "color": {"field": "s", "type": "nominal", "scale": {"domain": ["D", "L"], "range": ["#000000", "#ff0000"]}, "legend": {"title": null, "labelExpr": "'dgt/WT-' + datum.label", "legendX": 151, "legendY": 36, "rowPadding": 14, "labelOffset": 22, "symbolSize": 40}},
  "shape": {"field": "s", "type": "nominal", "scale": {"domain": ["D", "L"], "range": ["square", "circle"]}, "legend": {"title": null, "labelExpr": "'dgt/WT-' + datum.label", "legendX": 151, "legendY": 36, "rowPadding": 14, "labelOffset": 22, "symbolSize": 40}}
 }},
{"width": 285, "height": 207,
 "title": {"text": "C", "dx": -74, "dy": -10},
 "data": {"name": "bl"},
 "layer": [
  {"mark": {"type": "rule", "color": "#888888", "strokeWidth": 1},
   "encoding": {
    "x": {"field": "g", "type": "nominal", "sort": null, "scale": {"paddingInner": 0.324, "paddingOuter": 0.169}, "axis": {"orient": "bottom", "title": null, "offset": 18, "labelAngle": -22, "labelAlign": "right", "labelBaseline": "top", "labelOffset": 16, "labelFontStyle": "italic", "labelFontSize": 17, "labelPadding": 4}},
    "xOffset": {"field": "c", "type": "nominal", "sort": ["D", "L"], "scale": {"paddingInner": 0, "paddingOuter": 0}},
    "y": {"field": "lo", "type": "quantitative", "scale": {"domain": [0, 0.008], "nice": false}, "axis": {"values": [0, 0.002, 0.004, 0.006, 0.008], "format": ".3f", "title": "Chl fluorescence (relative)", "titlePadding": 7, "labelPadding": 5}},
    "y2": {"field": "hi"}}},
  {"mark": {"type": "tick", "color": "#888888", "size": 6, "thickness": 1},
   "encoding": {
    "x": {"field": "g", "type": "nominal", "sort": null, "axis": null},
    "xOffset": {"field": "c", "type": "nominal", "sort": ["D", "L"]},
    "y": {"field": "hi", "type": "quantitative", "axis": {"values": [0, 0.002, 0.004, 0.006, 0.008], "format": ".3f", "title": "Chl fluorescence (relative)", "titlePadding": 7, "labelPadding": 5}}}},
  {"mark": {"type": "bar", "stroke": "#555555", "strokeWidth": 1},
   "encoding": {
    "x": {"field": "g", "type": "nominal", "sort": null, "axis": {"orient": "bottom", "title": null, "labelExpr": "['D\u00a0\u00a0\u00a0L', '______']", "labelAngle": 0, "labelAlign": "center", "labelBaseline": "top", "labelPadding": 4, "labelLineHeight": 1}},
    "xOffset": {"field": "c", "type": "nominal", "sort": ["D", "L"]},
    "y": {"field": "v", "type": "quantitative", "axis": {"values": [0, 0.002, 0.004, 0.006, 0.008], "format": ".3f", "title": "Chl fluorescence (relative)", "titlePadding": 7, "labelPadding": 5}},
    "fill": {"field": "c", "type": "nominal", "scale": {"domain": ["D", "L"], "range": ["#000000", "#ffffff"]}, "legend": null}}},
  {"transform": [{"filter": "datum.c == 'L'"}],
   "mark": {"type": "rule", "color": "#888888", "strokeWidth": 1},
   "encoding": {
    "x": {"field": "g", "type": "nominal", "sort": null, "axis": null},
    "xOffset": {"field": "c", "type": "nominal", "sort": ["D", "L"]},
    "y": {"field": "lo", "type": "quantitative", "axis": {"values": [0, 0.002, 0.004, 0.006, 0.008], "format": ".3f", "title": "Chl fluorescence (relative)", "titlePadding": 7, "labelPadding": 5}},
    "y2": {"field": "hi"}}},
  {"transform": [{"filter": "datum.c == 'L'"}],
   "mark": {"type": "tick", "color": "#888888", "size": 6, "thickness": 1},
   "encoding": {
    "x": {"field": "g", "type": "nominal", "sort": null, "axis": null},
    "xOffset": {"field": "c", "type": "nominal", "sort": ["D", "L"]},
    "y": {"field": "lo", "type": "quantitative", "axis": {"values": [0, 0.002, 0.004, 0.006, 0.008], "format": ".3f", "title": "Chl fluorescence (relative)", "titlePadding": 7, "labelPadding": 5}}}},
  {"mark": {"type": "text", "dy": -6, "baseline": "alphabetic", "fontSize": 17, "fontWeight": "bold", "color": "#000000"},
   "encoding": {
    "x": {"field": "g", "type": "nominal", "sort": null, "axis": null},
    "xOffset": {"field": "c", "type": "nominal", "sort": ["D", "L"]},
    "y": {"field": "hi", "type": "quantitative", "axis": {"values": [0, 0.002, 0.004, 0.006, 0.008], "format": ".3f", "title": "Chl fluorescence (relative)", "titlePadding": 7, "labelPadding": 5}},
    "text": {"field": "sig"}}}
 ],
 "resolve": {"axis": {"x": "independent"}}
},
{"width": 284, "height": 207,
 "data": {"name": "br"},
 "layer": [
  {"mark": {"type": "rule", "color": "#888888", "strokeWidth": 1},
   "encoding": {
    "x": {"field": "g", "type": "nominal", "sort": null, "scale": {"paddingInner": 0.324, "paddingOuter": 0.169}, "axis": {"orient": "bottom", "title": null, "offset": 18, "labelAngle": 0, "labelAlign": "center", "labelBaseline": "top", "labelFontSize": 17, "labelPadding": 4, "labelFontStyle": {"condition": {"test": "indexof(datum.value, 'dgt') == 0", "value": "italic"}, "value": "normal"}}},
    "xOffset": {"field": "c", "type": "nominal", "sort": ["D", "L"], "scale": {"paddingInner": 0, "paddingOuter": 0}},
    "y": {"field": "lo", "type": "quantitative", "scale": {"domain": [0, 0.008], "nice": false}, "axis": {"values": [0, 0.002, 0.004, 0.006, 0.008], "format": ".3f", "title": "Chl fluorescence (relative)", "titlePadding": 7, "labelPadding": 5}},
    "y2": {"field": "hi"}}},
  {"mark": {"type": "tick", "color": "#888888", "size": 6, "thickness": 1},
   "encoding": {
    "x": {"field": "g", "type": "nominal", "sort": null, "axis": null},
    "xOffset": {"field": "c", "type": "nominal", "sort": ["D", "L"]},
    "y": {"field": "hi", "type": "quantitative", "axis": {"values": [0, 0.002, 0.004, 0.006, 0.008], "format": ".3f", "title": "Chl fluorescence (relative)", "titlePadding": 7, "labelPadding": 5}}}},
  {"mark": {"type": "bar", "stroke": "#555555", "strokeWidth": 1},
   "encoding": {
    "x": {"field": "g", "type": "nominal", "sort": null, "axis": {"orient": "bottom", "title": null, "labelExpr": "['D\u00a0\u00a0\u00a0L', '______']", "labelAngle": 0, "labelAlign": "center", "labelBaseline": "top", "labelPadding": 4, "labelLineHeight": 1}},
    "xOffset": {"field": "c", "type": "nominal", "sort": ["D", "L"]},
    "y": {"field": "v", "type": "quantitative", "axis": {"values": [0, 0.002, 0.004, 0.006, 0.008], "format": ".3f", "title": "Chl fluorescence (relative)", "titlePadding": 7, "labelPadding": 5}},
    "fill": {"field": "c", "type": "nominal", "scale": {"domain": ["D", "L"], "range": ["#000000", "#ffffff"]}, "legend": null}}},
  {"transform": [{"filter": "datum.c == 'L'"}],
   "mark": {"type": "rule", "color": "#888888", "strokeWidth": 1},
   "encoding": {
    "x": {"field": "g", "type": "nominal", "sort": null, "axis": null},
    "xOffset": {"field": "c", "type": "nominal", "sort": ["D", "L"]},
    "y": {"field": "lo", "type": "quantitative", "axis": {"values": [0, 0.002, 0.004, 0.006, 0.008], "format": ".3f", "title": "Chl fluorescence (relative)", "titlePadding": 7, "labelPadding": 5}},
    "y2": {"field": "hi"}}},
  {"transform": [{"filter": "datum.c == 'L'"}],
   "mark": {"type": "tick", "color": "#888888", "size": 6, "thickness": 1},
   "encoding": {
    "x": {"field": "g", "type": "nominal", "sort": null, "axis": null},
    "xOffset": {"field": "c", "type": "nominal", "sort": ["D", "L"]},
    "y": {"field": "lo", "type": "quantitative", "axis": {"values": [0, 0.002, 0.004, 0.006, 0.008], "format": ".3f", "title": "Chl fluorescence (relative)", "titlePadding": 7, "labelPadding": 5}}}},
  {"mark": {"type": "text", "dy": -6, "baseline": "alphabetic", "fontSize": 17, "fontWeight": "bold", "color": "#000000"},
   "encoding": {
    "x": {"field": "g", "type": "nominal", "sort": null, "axis": null},
    "xOffset": {"field": "c", "type": "nominal", "sort": ["D", "L"]},
    "y": {"field": "hi", "type": "quantitative", "axis": {"values": [0, 0.002, 0.004, 0.006, 0.008], "format": ".3f", "title": "Chl fluorescence (relative)", "titlePadding": 7, "labelPadding": 5}},
    "text": {"field": "sig"}}}
 ],
 "resolve": {"axis": {"x": "independent"}}
}
],
"resolve": {"scale": {"color": "independent", "shape": "independent", "fill": "independent", "xOffset": "independent"}, "legend": {"color": "independent", "shape": "independent"}},
"config": {
 "font": "Liberation Sans",
 "view": {"stroke": "#555555", "strokeWidth": 1},
 "axis": {"domain": false, "ticks": false, "grid": false, "labelFontSize": 16, "labelFontWeight": "bold", "labelColor": "#000000", "titleFontSize": 17, "titleFontWeight": "bold", "titleColor": "#000000", "labelFlush": false, "labelOverlap": false, "labelPadding": 4},
 "legend": {"orient": "none", "padding": 0, "labelFontSize": 16, "labelFontWeight": "bold", "labelColor": "#000000", "symbolStrokeWidth": 0},
 "title": {"fontSize": 19, "fontWeight": "bold", "anchor": "start", "frame": "group", "baseline": "top", "offset": 0, "color": "#000000"}
}
}
